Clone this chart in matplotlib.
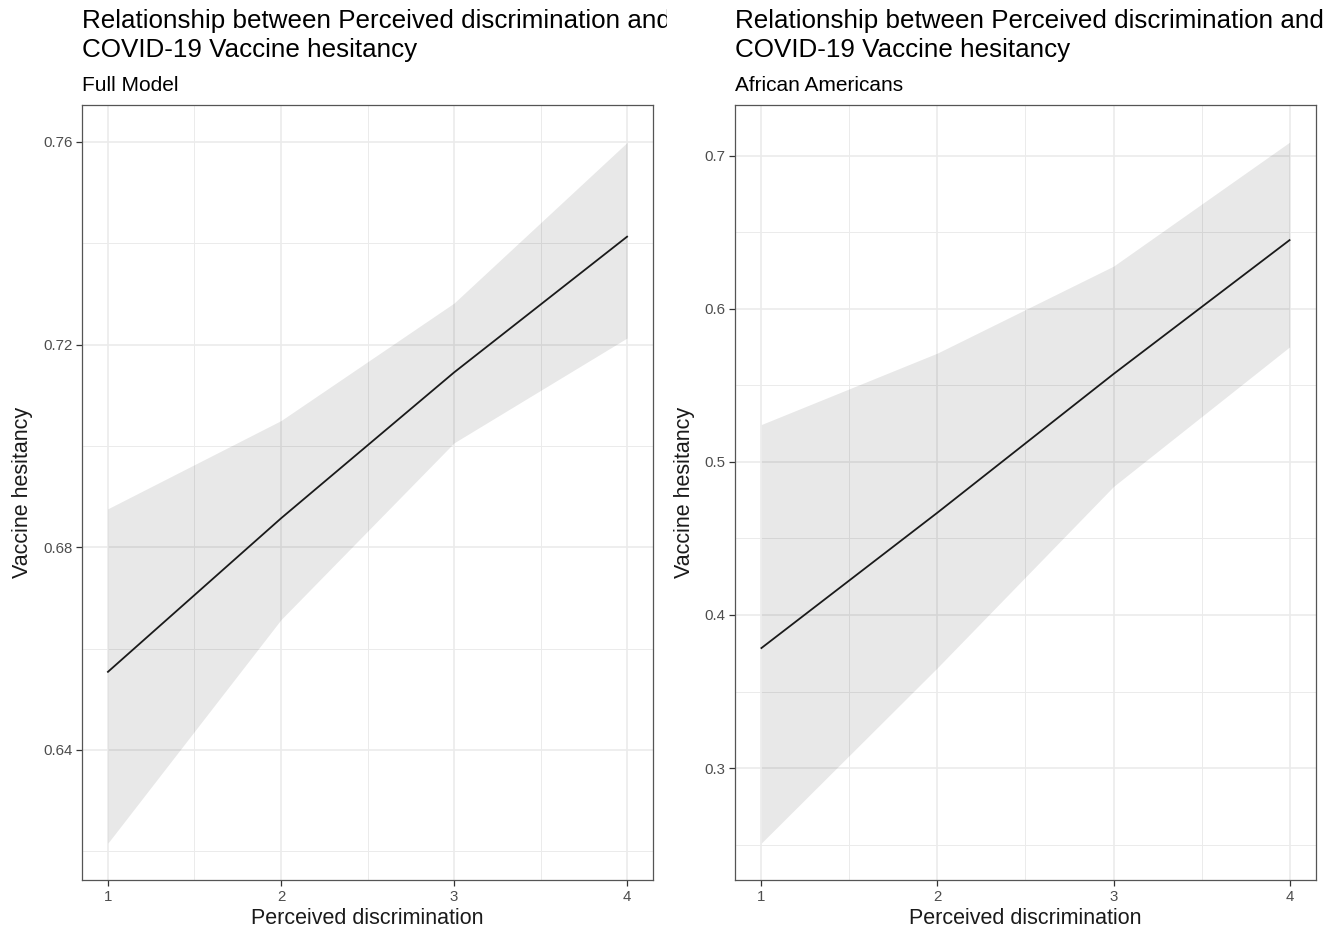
import matplotlib
matplotlib.use("Agg")
import matplotlib.pyplot as plt
from matplotlib.transforms import Bbox, TransformedBbox

plt.rcParams["font.family"] = ["Liberation Sans", "DejaVu Sans"]

# Perceived discrimination levels
x_vals = [1, 2, 3, 4]

# Full model: predicted vaccine hesitancy and 95% band
full_pred = [0.6554, 0.6857, 0.7145, 0.7413]
full_low = [0.6216, 0.6657, 0.7006, 0.7213]
full_high = [0.6876, 0.7050, 0.7282, 0.7599]

# African Americans
aa_pred = [0.3784, 0.4669, 0.5575, 0.6450]
aa_low = [0.2510, 0.3656, 0.4840, 0.5752]
aa_high = [0.5245, 0.5712, 0.6280, 0.7090]

title = "Relationship between Perceived discrimination and\nCOVID-19 Vaccine hesitancy"
subtitles = ["Full Model", "African Americans"]
x_label = "Perceived discrimination"
y_label = "Vaccine hesitancy"

left_major = [0.64, 0.68, 0.72, 0.76]
left_minor = [0.62, 0.66, 0.70, 0.74]
right_major = [0.3, 0.4, 0.5, 0.6, 0.7]
right_minor = [0.25, 0.35, 0.45, 0.55, 0.65]
x_minor = [1.5, 2.5, 3.5]

fig = plt.figure(figsize=(13.42, 9.35), dpi=100)

panels = [
    dict(rect=[0.0611, 0.0588, 0.4255, 0.8289], pred=full_pred, low=full_low, high=full_high,
         major=left_major, minor=left_minor, ylim=(0.6143, 0.7673), labels=["0.64", "0.68", "0.72", "0.76"],
         clip=(0.0, 0.497)),
    dict(rect=[0.5477, 0.0588, 0.4329, 0.8289], pred=aa_pred, low=aa_low, high=aa_high,
         major=right_major, minor=right_minor, ylim=(0.2268, 0.7333), labels=["0.3", "0.4", "0.5", "0.6", "0.7"],
         clip=(0.5, 1.0)),
]

for p, sub in zip(panels, subtitles):
    ax = fig.add_axes(p["rect"])
    ax.fill_between(x_vals, p["low"], p["high"], color="black", alpha=0.09, linewidth=0, zorder=2)
    ax.plot(x_vals, p["pred"], color="#1a1a1a", linewidth=1.3, zorder=3)

    ax.set_xlim(0.85, 4.15)
    ax.set_ylim(*p["ylim"])
    ax.set_xticks(x_vals)
    ax.set_xticks(x_minor, minor=True)
    ax.set_yticks(p["major"])
    ax.set_yticklabels(p["labels"])
    ax.set_yticks(p["minor"], minor=True)
    ax.grid(which="major", color="#EBEBEB", linewidth=1.2, zorder=0)
    ax.grid(which="minor", color="#EBEBEB", linewidth=0.7, zorder=0)
    ax.set_axisbelow(True)
    ax.tick_params(which="major", length=4, width=0.9, color="#333333", labelsize=10.8, labelcolor="#4D4D4D", pad=3)
    ax.tick_params(which="minor", length=0)
    for s in ax.spines.values():
        s.set_color("#555555")
        s.set_linewidth(0.9)
    ax.set_xlabel(x_label, fontsize=15.5, color="#1a1a1a", labelpad=3)
    ax.set_ylabel(y_label, fontsize=15.5, color="#1a1a1a", labelpad=7)

    left_x = p["rect"][0]
    clip_box = TransformedBbox(Bbox([[p["clip"][0], 0], [p["clip"][1], 1]]), fig.transFigure)
    t = fig.text(left_x, 1 - 9 / 935, title, fontsize=18.7, va="top", ha="left", color="black", linespacing=1.24)
    t.set_clip_box(clip_box)
    t.set_clip_on(True)
    fig.text(left_x, 1 - 91 / 935, sub, fontsize=15, va="baseline", ha="left", color="black")

fig.savefig("out.png", dpi=100)
